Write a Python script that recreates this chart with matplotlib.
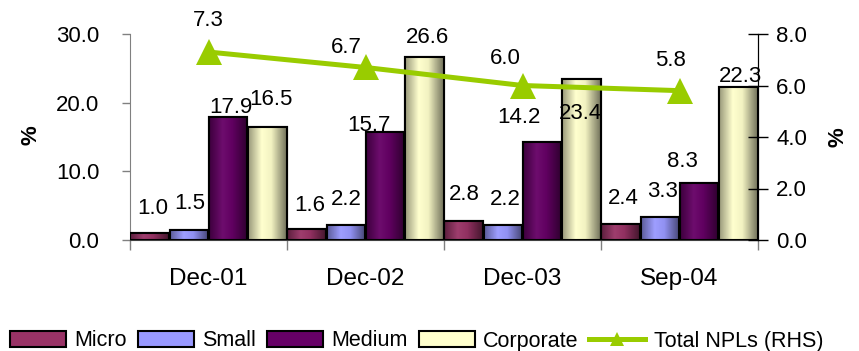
import numpy as np
import matplotlib
matplotlib.use("Agg")
import matplotlib.pyplot as plt
from matplotlib.colors import LinearSegmentedColormap, to_rgb
from matplotlib.patches import Patch
from matplotlib.lines import Line2D

plt.rcParams['font.family'] = ['Liberation Sans', 'DejaVu Sans']

# ---- data ----
categories = ["Dec-01", "Dec-02", "Dec-03", "Sep-04"]
series_names = ["Micro", "Small", "Medium", "Corporate"]
micro = [1.0, 1.6, 2.8, 2.4]
small = [1.5, 2.2, 2.2, 3.3]
medium = [17.9, 15.7, 14.2, 8.3]
corporate = [16.5, 26.6, 23.4, 22.3]
total_npl = [7.3, 6.7, 6.0, 5.8]
line_name = "Total NPLs (RHS)"
left_ticks = [0, 10, 20, 30]
right_ticks = [0, 2, 4, 6, 8]

# ---- styles ----
bar_colors = ["#993366", "#9999FF", "#660066", "#FFFFCC"]
line_color = "#99CC00"
# label offsets (pixels, dx, dy) relative to bar top centre
bar_label_offsets = [
    [(3, 25), (3, 24), (1, 26), (3, 25)],
    [(1, 26), (0, 25), (2, 25), (3, 26)],
    [(3, 10), (-16, 7), (-23, 25), (-17, 22)],
    [(4, 27), (3, 20), (-1, -34), (2, 10)],
]
line_label_offsets = [(0, 32), (-19, 20), (-17, 27), (-9, 30)]

W, H = 859, 351
fig = plt.figure(figsize=(W / 100, H / 100), dpi=100)
ax = fig.add_axes([130 / W, 1 - 240 / H, (758 - 130) / W, (240 - 34) / H])
ax2 = ax.twinx()

n = len(categories)
x = np.arange(n)
bw = 0.245
series = [micro, small, medium, corporate]
fs_tick = 16
fs_x = 17.5


def shade_cmap(c):
    r = np.array(to_rgb(c))
    dark_l = r * 0.6
    light = np.minimum(r * 1.0 + (1 - r) * 0.05, 1)
    dark_r = r * 0.45
    return LinearSegmentedColormap.from_list(
        "g", [(0, dark_l), (0.35, light), (0.6, r * 0.95), (1, dark_r)])


grad = np.linspace(0, 1, 64).reshape(1, -1)
for si, (vals, col) in enumerate(zip(series, bar_colors)):
    pos = x - 0.375 + si * 0.25
    bars = ax.bar(pos, vals, width=bw, color=col, edgecolor="black",
                  linewidth=1.5, zorder=3)
    cm = shade_cmap(col)
    for b in bars:
        x0, y0 = b.get_x(), b.get_y()
        im = ax.imshow(grad, cmap=cm, aspect="auto",
                       extent=[x0, x0 + b.get_width(), y0, y0 + b.get_height()],
                       zorder=3.5, interpolation="bilinear")
        im.set_clip_path(b)
    ax.bar(pos, vals, width=bw, facecolor="none", edgecolor="black",
           linewidth=1.5, zorder=4)
    for i, v in enumerate(vals):
        dx, dy = bar_label_offsets[si][i]
        ax.annotate(f"{v:.1f}", (pos[i], v), xytext=(dx * 0.72, dy * 0.72),
                    textcoords="offset points", ha="center", va="center",
                    fontsize=fs_tick, zorder=6)

ax.set_xlim(-0.5, n - 0.5)
ax.set_ylim(0, 30)
ax.set_yticks(left_ticks)
ax.set_yticklabels([f"{t:.1f}" for t in left_ticks], fontsize=fs_tick)
ax.tick_params(axis="y", direction="out", length=6, width=1, pad=16,
               color="#808080")

ax.set_xticks(np.arange(-0.5, n, 1.0))
ax.set_xticklabels([])
ax.set_xticks(x, minor=True)
ax.set_xticklabels(categories, minor=True, fontsize=fs_x)
ax.tick_params(axis="x", which="major", direction="out", length=7, width=1,
               color="#808080")
ax.tick_params(axis="x", which="minor", length=0, pad=20)

ax.spines["top"].set_visible(False)
ax2.spines["top"].set_visible(False)
ax.spines["left"].set_color("#808080")
ax.spines["bottom"].set_color("#404040")
ax2.spines["left"].set_visible(False)
ax2.spines["bottom"].set_visible(False)
ax2.spines["right"].set_color("black")

ax2.plot(x, total_npl, color=line_color, linewidth=3.6, marker="^",
         markersize=19, markeredgewidth=0, zorder=5)
for i, v in enumerate(total_npl):
    dx, dy = line_label_offsets[i]
    ax2.annotate(f"{v:.1f}", (x[i], v), xytext=(dx * 0.72, dy * 0.72),
                 textcoords="offset points", ha="center", va="center",
                 fontsize=fs_tick, zorder=6)
ax2.set_ylim(0, 8)
ax2.set_yticks(right_ticks)
ax2.set_yticklabels([f"{t:.1f}" for t in right_ticks], fontsize=fs_tick)
ax2.tick_params(axis="y", direction="inout", length=14, width=1, pad=6)
ax2.set_xlim(-0.5, n - 0.5)

fig.text(31 / W, 1 - 135 / H, "%", rotation=90, fontsize=16, fontweight="bold",
         ha="center", va="center")
fig.text(838 / W, 1 - 137 / H, "%", rotation=90, fontsize=16, fontweight="bold",
         ha="center", va="center")

handles = [Patch(facecolor=c, edgecolor="black", linewidth=1.5) for c in bar_colors]
handles.append(Line2D([], [], color=line_color, linewidth=3.6, marker="^",
                      markersize=10, markeredgewidth=0))
leg = fig.legend(handles, series_names + [line_name], loc="center",
                 bbox_to_anchor=(0.485, 1 - 341 / H), ncol=5, frameon=False,
                 fontsize=15.5, handlelength=2.6, handleheight=0.7,
                 handletextpad=0.4, columnspacing=0.5, borderpad=0)

fig.savefig("out.png", dpi=100)
